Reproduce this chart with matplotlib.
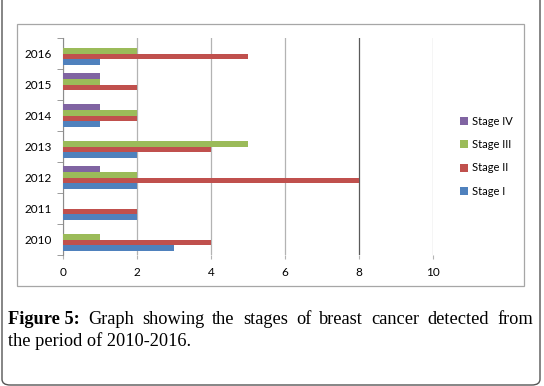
# Stages of breast cancer, horizontal grouped bars
import numpy as np
import matplotlib.pyplot as plt
from matplotlib.patches import FancyBboxPatch, Rectangle

# Data
years = ['2010', '2011', '2012', '2013', '2014', '2015', '2016']
stage_1 = [3, 2, 2, 2, 1, 0, 1]
stage_2 = [4, 2, 8, 4, 2, 2, 5]
stage_3 = [1, 0, 2, 5, 2, 1, 2]
stage_4 = [0, 0, 1, 0, 1, 1, 0]
stage_names = ['Stage I', 'Stage II', 'Stage III', 'Stage IV']
colors = ['#4F81BD', '#C0504D', '#9BBB59', '#8064A2']

fig = plt.figure(figsize=(5.44, 3.86), dpi=100)
W, H = 544, 386

# outer rounded frame and inner chart border
fig.patches.append(FancyBboxPatch((2 / W, 1 / H), 538 / W, 395 / H,
                                  boxstyle='round,pad=0,rounding_size=0.015',
                                  transform=fig.transFigure, fill=False,
                                  edgecolor='#555555', linewidth=1.0))
fig.patches.append(Rectangle((17 / W, 1 - 286 / H), 507 / W, 262 / H,
                             transform=fig.transFigure, fill=False,
                             edgecolor='#a6a6a6', linewidth=0.9))

ax = fig.add_axes([63 / W, 1 - 255 / H, 370 / W, 217 / H])

y = np.arange(len(years))
h = 0.185
series = [stage_1, stage_2, stage_3, stage_4]
bars = []
for i, vals in enumerate(series):
    b = ax.barh(y + (i - 1.5) * h, vals, height=h, color=colors[i],
                edgecolor='none', label=stage_names[i], zorder=3)
    bars.append(b)

ax.set_xlim(0, 10)
ax.set_ylim(-0.5, 6.5)
ax.set_xticks([0, 2, 4, 6, 8, 10])
ax.set_yticks(y)
ax.set_yticklabels(years)
ax.set_yticks(np.arange(-0.5, 7, 1), minor=True)

for s in ['top', 'right', 'bottom']:
    ax.spines[s].set_visible(False)
ax.spines['left'].set_color('#8c8c8c')

ax.xaxis.grid(True, color='#b3b3b3', linewidth=0.9, zorder=0)
for gl, v in zip(ax.get_xgridlines(), [0, 2, 4, 6, 8, 10]):
    if v == 8:
        gl.set_color('#5a5a5a')

ax.tick_params(axis='y', which='major', length=0, pad=8, labelsize=8.5)
ax.tick_params(axis='y', which='minor', length=4, color='#8c8c8c', direction='out')
ax.tick_params(axis='x', length=3, color='#b3b3b3', pad=6, labelsize=8.5)
for lab in ax.get_xticklabels() + ax.get_yticklabels():
    lab.set_family('Lato')

handles = bars[::-1]
labels = stage_names[::-1]
fig.legend(handles, labels, loc='upper left', bbox_to_anchor=(450 / W, 1 - 106 / H),
           frameon=False, handlelength=0.75, handleheight=0.75,
           labelspacing=1.1, handletextpad=0.35, prop={'family': 'Lato', 'size': 8})

# caption, first line justified to the box width
cap_size = 13.2
fig.canvas.draw()
renderer = fig.canvas.get_renderer()
words = ['Figure 5:', 'Graph', 'showing', 'the', 'stages', 'of', 'breast',
         'cancer', 'detected', 'from']
texts = []
for k, w in enumerate(words):
    t = fig.text(0, 1 - 320 / H, w, fontsize=cap_size, family='Liberation Serif',
                 fontweight='bold' if k == 0 else 'normal', va='center')
    texts.append(t)
widths = [t.get_window_extent(renderer).width for t in texts]
x0, x1 = 8, 533
gap = (x1 - x0 - sum(widths)) / (len(words) - 1)
x = x0
for t, wd in zip(texts, widths):
    t.set_x(x / W)
    x += wd + gap
fig.text(8 / W, 1 - 341 / H, 'the period of 2010-2016.', fontsize=cap_size,
         family='Liberation Serif', va='center')

fig.savefig('out.png', dpi=100)
